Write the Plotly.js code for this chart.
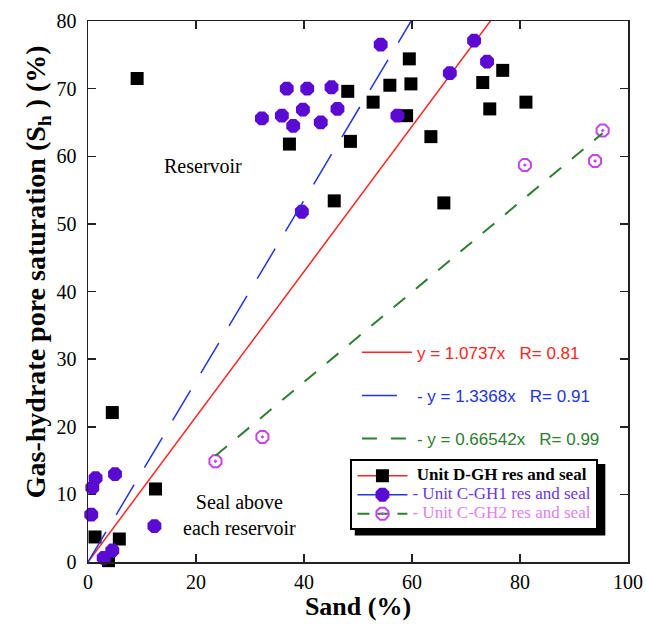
<!DOCTYPE html>
<html><head><meta charset="utf-8">
<script src="https://cdn.plot.ly/plotly-3.0.1.min.js"></script>
<style>html,body{margin:0;padding:0;background:#fff}</style>
</head><body><div id="chart" style="width:646px;height:624px"></div>
<script>
// Unit D-GH (black squares)
const dghSand = [9.1, 37.3, 45.6, 48.1, 48.6, 52.8, 55.9, 59.5, 59.8, 59.0, 63.5, 65.9, 73.1, 74.4, 76.8, 81.1, 4.5, 12.5, 1.3, 5.8, 3.8];
const dghSh   = [71.5, 61.8, 53.4, 69.6, 62.2, 68.0, 70.5, 74.4, 70.7, 66.0, 62.9, 53.1, 70.9, 67.0, 72.7, 68.0, 22.1, 10.8, 3.7, 3.4, 0.2];
// Unit C-GH1 (purple filled)
const cgh1Sand = [36.8, 40.6, 45.1, 32.2, 35.9, 39.8, 46.2, 38.0, 43.1, 54.2, 57.3, 39.6, 71.5, 67.0, 73.9, 1.4, 0.8, 5.0, 0.6, 12.3, 4.5, 2.9];
const cgh1Sh   = [70.0, 70.0, 70.2, 65.6, 66.0, 66.9, 67.0, 64.5, 65.0, 76.5, 66.0, 51.8, 77.1, 72.3, 74.0, 12.4, 11.0, 13.0, 7.0, 5.3, 1.7, 0.6];
// Unit C-GH2 (open pink)
const cgh2Sand = [23.6, 32.3, 80.9, 95.3, 93.9];
const cgh2Sh   = [14.9, 18.5, 58.7, 63.8, 59.3];
// Fits y = a x
const fitSlopes = [1.0737, 1.3368, 0.66542];
const fitR = ["0.81", "0.91", "0.99"];
const fitXStart = [0, 0, 23.6];
const fitXEnd = [100, 100, 95.3];
const fitLabels = ["y = 1.0737x", "- y = 1.3368x", "- y = 0.66542x"];
const seriesNames = ["Unit D-GH res and seal", "- Unit C-GH1 res and seal", "- Unit C-GH2 res and seal"];
const xTicks = [0, 20, 40, 60, 80, 100];
const yTicks = [0, 10, 20, 30, 40, 50, 60, 70, 80];

const serif = "Liberation Serif, Times New Roman, serif";
const sans = "Liberation Sans, Arial, sans-serif";
const cRed = "#ff2424", cBlue = "#2233e0", cGreen = "#2e7d32";
const cPurple = "#5a0ad2", cPink = "#c445e6";

function fitTrace(i, color, dash, width, group) {
  const xs = [fitXStart[i], fitXEnd[i]];
  return {
    x: xs, y: xs.map(v => v * fitSlopes[i]), mode: "lines", type: "scatter",
    line: {color: color, dash: dash, width: width},
    name: '<span style="color:' + color + '">' + fitLabels[i] + "&nbsp;&nbsp;&nbsp;R= " + fitR[i] + "</span>",
    legend: "legend2", legendgroup: group, showlegend: true, hoverinfo: "skip"
  };
}

const sqMarker = {symbol: "square", size: 13, color: "#000"};
const c1Marker = {symbol: "octagon", size: 15, color: cPurple};
const c2Marker = {symbol: "octagon-open-dot", size: 13, color: cPink, line: {width: 2, color: cPink}};
const legSpan = (color, weight, txt) =>
  '<span style="font-size:17px;color:' + color + ';font-weight:' + weight + '">' + txt + '</span>';

const traces = [
  {x: dghSand, y: dghSh, mode: "markers", type: "scatter", marker: sqMarker, showlegend: false, cliponaxis: false},
  fitTrace(0, cRed, "solid", 1.5, "f1"),
  {x: cgh1Sand, y: cgh1Sh, mode: "markers", type: "scatter", marker: c1Marker, showlegend: false, cliponaxis: false},
  fitTrace(1, cBlue, "35px,20px", 1.5, "f2"),
  {x: cgh2Sand, y: cgh2Sh, mode: "markers", type: "scatter", marker: c2Marker, showlegend: false, cliponaxis: false},
  fitTrace(2, cGreen, "15px,14px", 2, "f3"),
  {x: [null], y: [null], mode: "lines+markers", type: "scatter", marker: sqMarker, line: {color: cRed, width: 1.5},
   name: legSpan("#000", "bold", "&nbsp;" + seriesNames[0]), legend: "legend", legendgroup: "s1"},
  {x: [null], y: [null], mode: "lines+markers", type: "scatter", marker: c1Marker, line: {color: cBlue, width: 1.5},
   name: legSpan("#6a35e6", "normal", seriesNames[1]), legend: "legend", legendgroup: "s2"},
  {x: [null], y: [null], mode: "lines+markers", type: "scatter", marker: c2Marker, line: {color: cGreen, width: 2, dash: "12px,8px"},
   name: legSpan("#e07ef2", "normal", seriesNames[2]), legend: "legend", legendgroup: "s3"}
];

const axisCommon = {
  showline: true, linecolor: "#222", linewidth: 1.5, mirror: "ticks",
  ticks: "inside", ticklen: 8, tickwidth: 1.5, tickcolor: "#222",
  showgrid: false, zeroline: false, tickmode: "array",
  tickfont: {family: serif, size: 20, color: "#000"}
};

const layout = {
  width: 646, height: 624,
  margin: {l: 88, r: 18, t: 21, b: 62},
  paper_bgcolor: "#fff", plot_bgcolor: "#fff",
  showlegend: true,
  xaxis: Object.assign({}, axisCommon, {
    range: [0, 100], tickvals: xTicks, ticktext: xTicks.map(String), ticklabelstandoff: 1,
    title: {text: "<b>Sand (%)</b>", font: {family: serif, size: 26, color: "#000"}, standoff: 4}
  }),
  yaxis: Object.assign({}, axisCommon, {
    range: [0, 80], tickvals: yTicks, ticktext: yTicks.map(String), ticklabelstandoff: 6
  }),
  legend: {
    x: 0.486, y: 0.19, xanchor: "left", yanchor: "top",
    bgcolor: "#ffffff", bordercolor: "#000", borderwidth: 2,
    font: {family: serif, size: 12, color: "#000"},
    itemwidth: 50, traceorder: "normal", tracegroupgap: 0
  },
  legend2: {
    x: 0.498, y: 0.42, xanchor: "left", yanchor: "top",
    bgcolor: "rgba(0,0,0,0)", borderwidth: 0,
    font: {family: sans, size: 17},
    itemwidth: 50, traceorder: "grouped", tracegroupgap: 18
  },
  shapes: [
    // drop shadow of the boxed legend
    {type: "rect", xref: "paper", yref: "paper", layer: "above",
     x0: 0.494, x1: 0.958, y0: 0.049, y1: 0.181, fillcolor: "#000", line: {width: 0}}
  ],
  annotations: [
    {xref: "paper", yref: "paper", x: -0.094, y: 0.536, xanchor: "center", yanchor: "middle",
     textangle: -90, showarrow: false,
     text: "<b>Gas-hydrate pore saturation (S<sub>h</sub> ) (%)</b>", font: {family: serif, size: 28, color: "#000"}},
    {xref: "x", yref: "y", x: 21.3, y: 58.5, showarrow: false, text: "Reservoir",
     font: {family: serif, size: 20, color: "#000"}},
    {xref: "x", yref: "y", x: 28.1, y: 6.9, showarrow: false, text: "Seal above<br>each reservoir",
     font: {family: serif, size: 20, color: "#000"}}
  ]
};

Plotly.newPlot("chart", traces, layout, {displayModeBar: false, staticPlot: true});
</script></body></html>
